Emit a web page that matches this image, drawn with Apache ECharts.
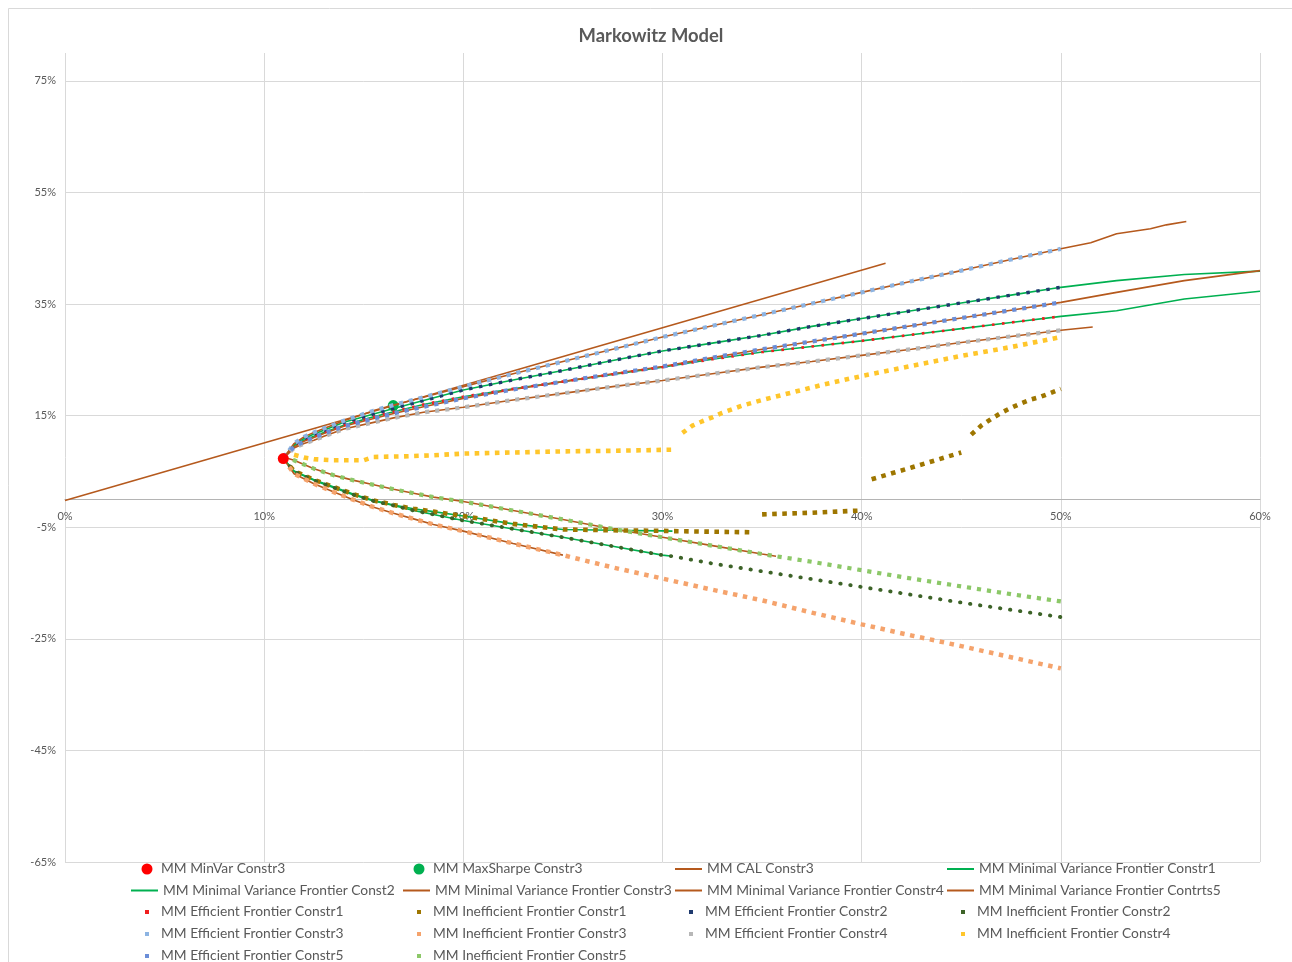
<!DOCTYPE html>
<html>
<head>
<meta charset="utf-8">
<title>Markowitz Model</title>
<script src="https://cdn.jsdelivr.net/npm/echarts@6/dist/echarts.min.js"></script>
<style>
  html, body { margin: 0; padding: 0; background: #ffffff; }
  #chart { width: 1292px; height: 962px; }
</style>
</head>
<body>
<div id="chart"></div>
<script>
// Portfolio risk (standard deviation, %) on x, expected return (%) on y.
const xTicks = [0, 10, 20, 30, 40, 50, 60];
const yTicks = [-65, -45, -25, -5, 15, 35, 55, 75];
const yTop = 80;

const minVarConstr3 = [[10.96, 7.3]];
const maxSharpeConstr3 = [[16.48, 16.8]];
const calConstr3 = [[0, -0.2], [41.2, 42.3]];

// Efficient (upper) frontiers
const efConstr1 = [[10.96, 7.3], [11.5, 9.6], [12, 10.6], [12.5, 11.3], [13, 12.0], [14, 13.3], [15.5, 14.8], [16.5, 15.7], [18, 17.0], [20, 18.4], [22.5, 19.8], [25, 21.1], [27.5, 22.4], [30, 23.7], [32.5, 25.1], [35, 26.4], [37.5, 27.4], [40, 28.4], [42.5, 29.5], [45, 30.6], [47.5, 31.7], [50, 32.8]];
const efConstr2 = [[10.96, 7.3], [11.5, 9.8], [12, 10.9], [12.5, 11.7], [13, 12.4], [14, 13.8], [15.5, 15.3], [16.5, 16.3], [18, 17.7], [20, 19.6], [22.5, 21.4], [25, 23.1], [27.5, 24.9], [30, 26.6], [32.5, 28.0], [35, 29.4], [37.5, 31.0], [40, 32.4], [42.5, 33.8], [45, 35.2], [47.5, 36.6], [50, 38.0]];
const efConstr3 = [[10.96, 7.3], [11.5, 10.0], [12, 11.2], [12.5, 12.0], [13, 12.7], [14, 14.1], [15.5, 15.9], [16.5, 16.9], [18, 18.3], [20, 20.2], [22.5, 22.5], [25, 24.7], [27.5, 26.9], [30, 29.1], [32.5, 31.1], [35, 33.1], [37.5, 35.1], [40, 37.1], [42.5, 39.1], [45, 41.0], [47.5, 43.0], [50, 44.9]];
const efConstr4 = [[10.96, 7.3], [11.5, 9.2], [12, 10.0], [12.5, 10.6], [13, 11.3], [14, 12.6], [15.5, 13.8], [16.5, 14.6], [18, 15.6], [20, 16.5], [22.5, 17.8], [25, 19.0], [27.5, 20.2], [30, 21.3], [32.5, 22.5], [35, 23.7], [37.5, 24.7], [40, 25.8], [42.5, 26.9], [45, 28.1], [47.5, 29.2], [50, 30.3]];
const efConstr5 = [[10.96, 7.6], [11.5, 9.4], [12, 10.4], [12.5, 11.1], [13, 11.8], [14, 13.1], [15.5, 14.5], [16.5, 15.4], [18, 16.6], [20, 18.1], [22.5, 19.7], [25, 21.1], [27.5, 22.5], [30, 23.8], [32.5, 25.4], [35, 26.9], [37.5, 28.3], [40, 29.7], [42.5, 31.1], [45, 32.5], [47.5, 33.9], [50, 35.3]];

// Inefficient (lower) frontiers; '-' breaks a run
const ifConstr1 = [[10.96, 7.3], [11.5, 5.1], [12.5, 3.5], [13.5, 2.2], [14.5, 0.9], [15.5, -0.2], [16.5, -1.0], [17.5, -1.7], [18.5, -2.2], [20, -3.0], [22.5, -4.4], [25, -5.4], [27.5, -5.55], [30, -5.65], [30.5, -5.7], [32.5, -5.8], [34.5, -5.9], [34.75, '-'], [35, -2.7], [37.5, -2.4], [40, -2.0], [40.25, '-'], [40.5, 3.6], [42.5, 5.7], [45, 8.4], [45.25, '-'], [45.5, 11.6], [46, 13.2], [46.5, 14.4], [47, 15.5], [47.5, 16.4], [48, 17.2], [48.5, 17.9], [49, 18.4], [49.5, 19.1], [50, 19.8]];
const ifConstr2 = [[10.96, 7.3], [11.5, 5.0], [12.5, 3.4], [13.5, 2.1], [14.5, 0.8], [15.5, -0.3], [16.5, -1.1], [17.5, -2.0], [18.5, -2.7], [20, -3.8], [22.5, -5.3], [25, -6.8], [27.5, -8.4], [30, -10.0], [30.5, -10.2], [32.5, -11.5], [35, -12.9], [37.5, -14.3], [40, -15.7], [42.5, -17.1], [45, -18.5], [47.5, -19.8], [50, -21.1]];
const ifConstr3 = [[10.96, 7.3], [11.5, 4.6], [12.5, 2.8], [13.5, 1.3], [14.5, -0.1], [15.5, -1.4], [16.5, -2.5], [17.5, -3.5], [18.5, -4.5], [20, -5.7], [22.5, -7.9], [25, -10.0], [27.5, -12.2], [30, -14.2], [32.5, -16.2], [35, -18.1], [37.5, -20.3], [40, -22.4], [42.5, -24.4], [45, -26.3], [47.5, -28.3], [50, -30.3]];
const ifConstr4 = [[11.5, 8.0], [12, 7.5], [12.5, 7.2], [13, 7.1], [13.5, 7.0], [15, 7.0], [15.5, 7.6], [17, 7.7], [18.5, 7.9], [20, 8.2], [22.5, 8.4], [25, 8.6], [27.5, 8.7], [30.5, 8.9], [30.75, '-'], [31, 11.9], [31.5, 13.2], [32, 14.0], [32.5, 14.7], [33, 15.5], [34, 16.8], [35, 17.8], [36, 18.7], [37, 19.6], [38, 20.5], [39, 21.3], [40, 22.1], [42.5, 23.9], [45, 25.7], [47.5, 27.3], [50, 29.1]];
const ifConstr5 = [[10.96, 7.6], [11.5, 7.0], [12.5, 5.5], [13.5, 4.3], [14.5, 3.4], [15.5, 2.6], [16.5, 1.8], [17.5, 1.1], [18.5, 0.4], [20, -0.4], [22.5, -2.0], [25, -3.6], [27.5, -5.3], [30, -6.8], [32.5, -8.3], [35, -9.8], [35.7, -10.2], [37.5, -11.2], [40, -12.7], [42.5, -14.2], [45, -15.6], [47.5, -17.0], [50, -18.3]];

// Minimal variance frontier lines: extra upper-branch points past 50% risk
const mvfTail1 = [[52.8, 33.8], [56.2, 35.9], [60, 37.3]];
const mvfTail2 = [[52.8, 39.2], [56.2, 40.3], [60, 40.9]];
const mvfTail3 = [[51.5, 46.0], [52.8, 47.6], [54.5, 48.5], [55.3, 49.2], [56.3, 49.8]];
const mvfTail4 = [[51.6, 30.9]];
const mvfTail5 = [[52.8, 37.1], [56.2, 39.2], [60, 41.0]];
// Risk where each frontier line stops on its lower branch
const mvfLowerEnd = { c1: 30.5, c2: 30.5, c3: 25, c5: 35.7 };

const FONT = "Lato, 'Liberation Sans', sans-serif";
const TEXT = '#595959';
const GREEN = '#00B050';
const BROWN = '#B5591D';

// Plot box in pixels
const GRID = { left: 65, right: 32, top: 53, bottom: 100 };
const plotHeight = 962 - GRID.top - GRID.bottom;

function lowerBranch(points, upTo) {
  return points.filter(p => p[1] !== '-' && p[0] <= upTo).reverse();
}
function frontier(lower, upper, tail) {
  return lower.concat(upper, tail);
}

const mvf1 = frontier(lowerBranch(ifConstr1, mvfLowerEnd.c1), efConstr1, mvfTail1);
const mvf2 = frontier(lowerBranch(ifConstr2, mvfLowerEnd.c2), efConstr2, mvfTail2);
const mvf3 = frontier(lowerBranch(ifConstr3, mvfLowerEnd.c3), efConstr3, mvfTail3);
const mvf4 = frontier([], efConstr4, mvfTail4);
const mvf5 = frontier(lowerBranch(ifConstr5, mvfLowerEnd.c5), efConstr5, mvfTail5);

function lineSeries(name, data, color) {
  return {
    name, type: 'line', data, symbol: 'none', smooth: false, z: 2,
    color, itemStyle: { color }, lineStyle: { color, width: 1.6 }, animation: false
  };
}
// Marker runs drawn as a chain of small square (or round) dots along the path
function dotSeries(name, data, color, size, round) {
  return {
    name, type: 'line', data, symbol: 'none', connectNulls: false, z: 2,
    color, itemStyle: { color },
    lineStyle: {
      color, width: size,
      type: round ? [0.5, 9.6] : [size, 10.1 - size],
      cap: round ? 'round' : 'butt'
    },
    animation: false
  };
}
function pointSeries(name, data, color, z) {
  return {
    name, type: 'scatter', data, symbol: 'circle', symbolSize: 11, z,
    itemStyle: { color, opacity: 1 }, animation: false
  };
}

const series = [
  pointSeries('MM MinVar Constr3', minVarConstr3, '#FF0000', 3),
  pointSeries('MM MaxSharpe Constr3', maxSharpeConstr3, '#00B050', 1),
  lineSeries('MM CAL Constr3', calConstr3, BROWN),
  lineSeries('MM Minimal Variance Frontier Constr1', mvf1, GREEN),
  lineSeries('MM Minimal Variance Frontier Const2', mvf2, GREEN),
  lineSeries('MM Minimal Variance Frontier Constr3', mvf3, BROWN),
  lineSeries('MM Minimal Variance Frontier Constr4', mvf4, BROWN),
  lineSeries('MM Minimal Variance Frontier Contrts5', mvf5, BROWN),
  dotSeries('MM Efficient Frontier Constr1', efConstr1, '#F01E1E', 2.6),
  dotSeries('MM Inefficient Frontier Constr1', ifConstr1, '#9E7600', 4.6),
  dotSeries('MM Efficient Frontier Constr2', efConstr2, '#1F3A6E', 3.4),
  dotSeries('MM Inefficient Frontier Constr2', ifConstr2, '#3D6328', 3.8, true),
  dotSeries('MM Efficient Frontier Constr3', efConstr3, '#8DB4E2', 4.2),
  dotSeries('MM Inefficient Frontier Constr3', ifConstr3, '#F5A36C', 4.5),
  dotSeries('MM Efficient Frontier Constr4', efConstr4, '#B7B7B7', 4.2),
  dotSeries('MM Inefficient Frontier Constr4', ifConstr4, '#FFC62B', 4.6),
  dotSeries('MM Efficient Frontier Constr5', efConstr5, '#6B8ED8', 4.2),
  dotSeries('MM Inefficient Frontier Constr5', ifConstr5, '#8CC868', 4.2)
];

// Legend grid: 4 columns, rows filled left to right
const legendTextX = [161, 433, 705, 977];
const legendRowY = [869, 890.5, 912, 934, 956];

const legends = series.map((s, i) => {
  const col = i % 4, row = Math.floor(i / 4);
  const tx = legendTextX[col], cy = legendRowY[row];
  const textStyle = { color: TEXT, fontSize: 13.8, fontFamily: FONT, lineHeight: 18 };
  const base = { data: [s.name], orient: 'horizontal', padding: 0, selectedMode: false, top: cy - 9 };
  if (s.type === 'scatter') {
    const sz = 11;
    return Object.assign(base, {
      left: tx - 14 - sz / 2, itemWidth: sz, itemHeight: sz, icon: 'circle',
      textStyle: Object.assign(textStyle, { padding: [0, 0, 0, 9 - sz / 2] })
    });
  }
  if (Array.isArray(s.lineStyle.type)) {
    const sz = 4;
    return Object.assign(base, {
      left: tx - 14 - sz / 2, itemWidth: sz, itemHeight: sz, icon: 'rect',
      textStyle: Object.assign(textStyle, { padding: [0, 0, 0, 9 - sz / 2] })
    });
  }
  return Object.assign(base, { left: tx - 30, itemWidth: 27, itemHeight: 2, icon: 'rect', textStyle });
});

// The horizontal axis sits on the zero-return line
const xAxisOffset = -plotHeight * (0 - yTicks[0]) / (yTop - yTicks[0]);

const chart = echarts.init(document.getElementById('chart'), null, { renderer: 'canvas' });
chart.setOption({
  backgroundColor: '#ffffff',
  animation: false,
  title: {
    text: 'Markowitz Model', left: 651, top: 27, padding: 0, textAlign: 'center',
    textStyle: { color: TEXT, fontSize: 18.4, fontWeight: 'bold', fontFamily: FONT }
  },
  graphic: [{
    type: 'rect', silent: true, z: -10,
    shape: { x: 8.5, y: 8.5, width: 1300, height: 1000 },
    style: { fill: 'none', stroke: '#d9d9d9', lineWidth: 1 }
  }],
  legend: legends,
  grid: Object.assign({ containLabel: false }, GRID),
  xAxis: {
    type: 'value', min: xTicks[0], max: xTicks[xTicks.length - 1], interval: 10,
    position: 'bottom', offset: xAxisOffset,
    axisLine: { show: true, onZero: false, lineStyle: { color: '#b4b4b4', width: 1 } },
    axisTick: { show: false },
    axisLabel: { formatter: v => v + '%', margin: 12, color: TEXT, fontSize: 11, fontFamily: FONT },
    splitLine: { show: true, lineStyle: { color: '#d9d9d9', width: 1 } }
  },
  yAxis: {
    type: 'value', min: yTicks[0], max: yTop, interval: 20,
    axisLine: { show: false },
    axisTick: { show: false },
    axisLabel: {
      formatter: v => (yTicks.indexOf(v) >= 0 ? v + '%' : ''),
      showMaxLabel: false, margin: 9, color: TEXT, fontSize: 11, fontFamily: FONT
    },
    splitLine: { show: true, showMaxLine: false, lineStyle: { color: '#d9d9d9', width: 1 } }
  },
  series
});
</script>
</body>
</html>
